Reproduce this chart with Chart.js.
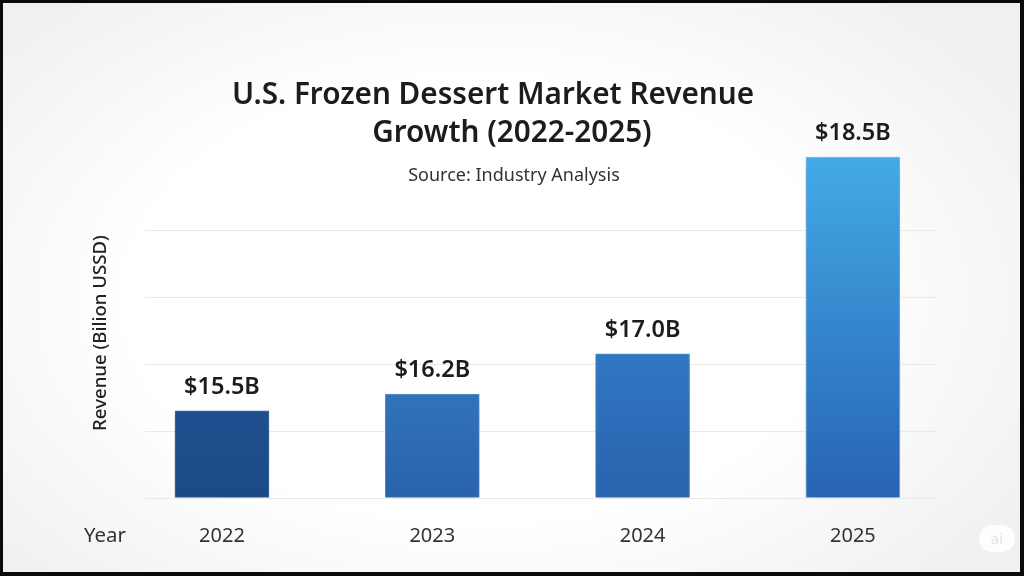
<!DOCTYPE html>
<html>
<head>
<meta charset="utf-8">
<title>U.S. Frozen Dessert Market Revenue Growth</title>
<style>
  html, body { margin: 0; padding: 0; }
  body {
    width: 1024px; height: 576px; overflow: hidden; position: relative;
    background: radial-gradient(ellipse 640px 400px at 47% 52%, #ffffff 55%, #f0f0f0 100%);
    font-family: "Noto Sans", sans-serif;
  }
  canvas { position: absolute; left: 0; top: 0; }
  .frame {
    position: absolute; left: 0; top: 0; width: 1024px; height: 576px; box-sizing: border-box;
    border: solid #0a0a0a; border-width: 3px 4px 4px 3px; pointer-events: none;
  }
  .title {
    position: absolute; left: 143px; top: 74px; width: 700px; text-align: center;
    font-size: 29.7px; line-height: 38px; font-weight: 600; color: #1c1c1c;
  }
  .title span { position: relative; left: 19px; }
  .source {
    position: absolute; left: 364px; top: 162px; width: 300px; text-align: center;
    font-size: 18px; line-height: 24px; color: #333;
  }
  .ylabel {
    position: absolute; left: 98px; top: 333px; white-space: nowrap;
    transform: translate(-50%, -50%) rotate(-90deg);
    font-size: 18.6px; font-weight: 500; color: #222;
  }
  .xname { position: absolute; left: 84px; top: 521px; font-size: 20.4px; line-height: 26px; color: #333; }
  .badge {
    position: absolute; left: 979px; top: 525px; width: 36px; height: 27px; border-radius: 14px;
    background: rgba(255,255,255,0.9); color: #e2e2e2; font-size: 15px; line-height: 27px; text-align: center;
  }
</style>
</head>
<body>
<canvas id="chart" width="1024" height="576"></canvas>
<div class="title">U.S. Frozen Dessert Market Revenue<br><span>Growth (2022-2025)</span></div>
<div class="source">Source: Industry Analysis</div>
<div class="ylabel">Revenue (Bilion USSD)</div>
<div class="xname">Year</div>
<div class="badge">ai</div>
<div class="frame"></div>
<script src="https://cdn.jsdelivr.net/npm/chart.js@4/dist/chart.umd.js"></script>
<script>
  const years = [2022, 2023, 2024, 2025];
  const revenueLabels = ["$15.5B", "$16.2B", "$17.0B", "$18.5B"];
  // axis has no tick labels and the bars are not in proportion to the printed
  // figures, so these are the drawn heights counted in gridline steps
  const barHeights = [1.30, 1.55, 2.15, 5.09];
  const gridSteps = [0, 1, 2, 3, 4];
  const barTopColors = ["#1f4f8e", "#3173bb", "#3077c2", "#43aae6"];
  const barBottomColors = ["#1c4a88", "#2a62ad", "#2a62ae", "#2763b2"];
  const barEdgeColors = ["#3f73ad", "#5a93cf", "#5a93cf", "#7cc4ee"];

  function barGradient(ctx) {
    const yScale = ctx.chart.scales.y;
    if (!yScale || ctx.dataIndex === undefined) return "#2a62ad";
    const top = yScale.getPixelForValue(barHeights[ctx.dataIndex]);
    const base = yScale.getPixelForValue(0);
    // first option pass runs before the scale has its size
    if (!isFinite(top) || !isFinite(base)) return barBottomColors[ctx.dataIndex];
    const g = ctx.chart.ctx.createLinearGradient(0, top, 0, base);
    g.addColorStop(0, barTopColors[ctx.dataIndex]);
    g.addColorStop(1, barBottomColors[ctx.dataIndex]);
    return g;
  }

  const barShadow = {
    id: "barShadow",
    beforeDatasetDraw(chart) {
      const c = chart.ctx;
      c.save();
      c.shadowColor = "rgba(60,60,60,0.3)";
      c.shadowBlur = 14;
      c.shadowOffsetY = 8;
    },
    afterDatasetDraw(chart) {
      chart.ctx.restore();
    }
  };

  const valueLabels = {
    id: "valueLabels",
    afterDatasetsDraw(chart) {
      const c = chart.ctx;
      c.save();
      c.font = "600 23.5px 'Noto Sans'";
      c.fillStyle = "#1c1c1c";
      c.textAlign = "center";
      c.textBaseline = "middle";
      chart.getDatasetMeta(0).data.forEach(function (bar, i) {
        c.fillText(revenueLabels[i], bar.x, bar.y - 24);
      });
      c.restore();
    }
  };

  new Chart(document.getElementById("chart"), {
    type: "bar",
    data: {
      datasets: [{
        label: "Revenue",
        data: years.map(function (y, i) { return { x: y, y: barHeights[i] }; }),
        backgroundColor: barGradient,
        borderColor: function (ctx) { return barEdgeColors[ctx.dataIndex]; },
        borderWidth: 1,
        barThickness: 94,
        clip: false
      }]
    },
    options: {
      responsive: false,
      animation: false,
      layout: { padding: { left: 145, right: 87, top: 96, bottom: 0 } },
      plugins: { legend: { display: false }, tooltip: { enabled: false } },
      scales: {
        x: {
          type: "linear",
          offset: false,
          min: 2021.634,
          max: 2025.4,
          grid: { display: false },
          border: { display: false },
          afterBuildTicks: function (s) { s.ticks = years.map(function (y) { return { value: y }; }); },
          afterFit: function (s) { s.height = 78; },
          ticks: {
            autoSkip: false,
            maxRotation: 0,
            padding: 18,
            color: "#333",
            font: { family: "Noto Sans", size: 20 },
            callback: function (v) { return String(v); }
          }
        },
        y: {
          min: 0,
          max: 6,
          afterBuildTicks: function (s) { s.ticks = gridSteps.map(function (v) { return { value: v }; }); },
          afterFit: function (s) { s.width = 0; },
          ticks: { display: false },
          border: { display: false },
          grid: { color: "#e9e9e9", lineWidth: 1, drawTicks: false }
        }
      }
    },
    plugins: [barShadow, valueLabels]
  });
</script>
</body>
</html>
